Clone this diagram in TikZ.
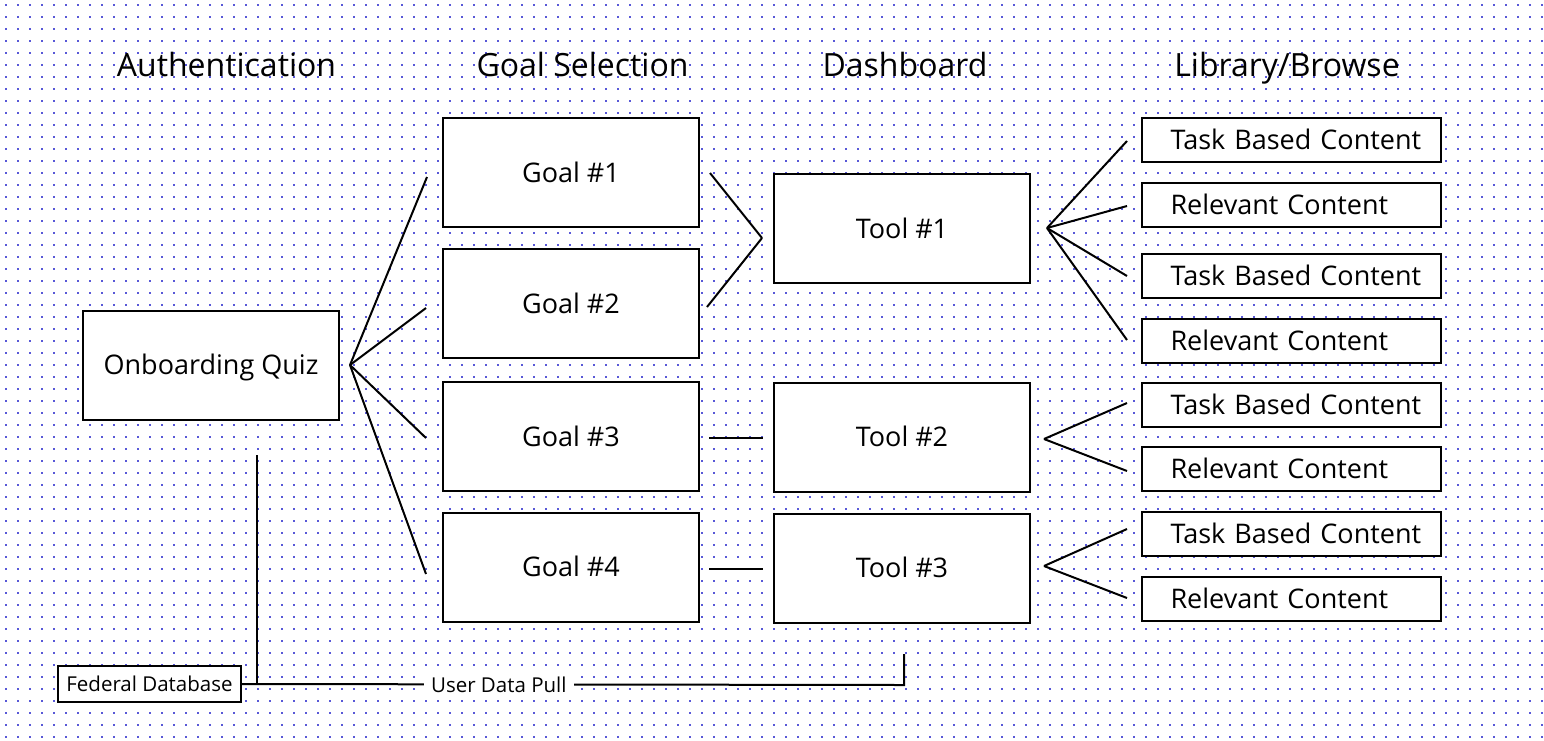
\documentclass[tikz,border=0pt]{standalone}
\usepackage{fontspec}
\setmainfont{Open Sans}
\usetikzlibrary{positioning}

\definecolor{griddot}{RGB}{88,88,215}
\newcommand{\headfont}{\fontsize{32}{38}\selectfont}
\newcommand{\boxfont}{\fontsize{27}{32}\selectfont}
\newcommand{\smallfont}{\fontsize{20.5}{24}\selectfont}

\tikzstyle{dotrow}=[griddot,line width=2pt,dash pattern=on 2pt off 10pt,dash phase=7pt]
\tikzstyle{heading}=[anchor=base,font=\headfont,inner sep=0pt]
\tikzstyle{box}=[draw,line width=2pt,fill=white,minimum width=256pt,minimum height=109pt,inner sep=0pt,text height=19.3pt,text depth=0pt,font=\boxfont]
\tikzstyle{item}=[draw,line width=2pt,fill=white,minimum width=299pt,minimum height=44pt,inner sep=0pt,text width=260pt,align=left,text height=19.3pt,text depth=0pt,font=\boxfont,execute at begin node={\hspace*{9pt}}]
\tikzstyle{source}=[draw,line width=2pt,fill=white,minimum width=183pt,minimum height=36pt,inner sep=0pt,text height=14.6pt,text depth=0pt,font=\smallfont]
\tikzstyle{link}=[draw,line width=2pt,-]
\tikzstyle{weight}=[fill=white,inner xsep=7pt,inner ysep=2pt,font=\smallfont]

\begin{document}
\begin{tikzpicture}[x=1pt, y=-1pt]
    % Dotted backdrop
    \useasboundingbox (0,0) rectangle (1544,740);
    \fill[white] (0,0) rectangle (1544,740);
    \foreach \row in {0,...,61}
        \draw[dotrow] (0,4.5+12*\row) -- (1544,4.5+12*\row);

    % Column headings
    \foreach \pos/\name/\lbl in {{(226.5,76)/authhead/Authentication}, {(582.5,76)/goalhead/Goal Selection},
                                 {(905,76)/dashhead/Dashboard}, {(1287,76)/libhead/{Library/Browse}}}
        \node[heading] (\name) at \pos {\lbl};

    % Then the boxes
    \node[box] (quiz) at (211,365) {Onboarding Quiz};
    \foreach \pos/\name/\lbl in {{(571,172.5)/goal1/Goal \#1}, {(571,303.5)/goal2/Goal \#2},
                                 {(571,436.5)/goal3/Goal \#3}, {(571,567)/goal4/Goal \#4},
                                 {(902,228.5)/tool1/Tool \#1}, {(902,437)/tool2/Tool \#2},
                                 {(902,568)/tool3/Tool \#3}}
        \node[box] (\name) at \pos {\lbl};
    \foreach \y/\name/\lbl in {140/task1/Task Based Content, 205/rel1/Relevant Content,
                               276/task2/Task Based Content, 340.5/rel2/Relevant Content,
                               404.5/task3/Task Based Content, 468.5/rel3/Relevant Content,
                               534/task4/Task Based Content, 599/rel4/Relevant Content}
        \node[item] (\name) at (1291.5,\y) {\lbl};
    \node[source] (feddb) at (149.5,684) {Federal Database};

    % Free ends of the connectors
    \foreach \pos/\name in {{(350,365)/quizhub}, {(427,177)/g1in}, {(426,308)/g2in}, {(426,438)/g3in}, {(426,574)/g4in},
                            {(710,173)/g1out}, {(762,238)/t1in}, {(707,307)/g2out},
                            {(709,438)/g3out}, {(763,438)/t2in}, {(709,569)/g4out}, {(763,569)/t3in},
                            {(1047,228)/t1hub}, {(1127,141)/k1in}, {(1127,206)/r1in}, {(1127,276)/k2in}, {(1127,340)/r2in},
                            {(1044,439)/t2hub}, {(1127,403)/k3in}, {(1127,471)/r3in},
                            {(1044,566)/t3hub}, {(1127,529)/k4in}, {(1127,598)/r4in},
                            {(257,455)/quizdrop}, {(257,685)/quizjoin}, {(904,685)/pullcorner}, {(904,654)/pullend}}
        \path \pos coordinate (\name);

    % Connect them
    \foreach \source/\dest in {quizhub/g1in, quizhub/g2in, quizhub/g3in, quizhub/g4in,
                               g1out/t1in, t1in/g2out, g3out/t2in, g4out/t3in,
                               t1hub/k1in, t1hub/r1in, t1hub/k2in, t1hub/r2in,
                               t2hub/k3in, t2hub/r3in, t3hub/k4in, t3hub/r4in,
                               quizdrop/quizjoin}
        \path[link] (\source) -- (\dest);

    \path[link] (feddb.east) -- node[weight, pos=0.388] {User Data Pull} (pullcorner) -- (pullend);
\end{tikzpicture}
\end{document}
